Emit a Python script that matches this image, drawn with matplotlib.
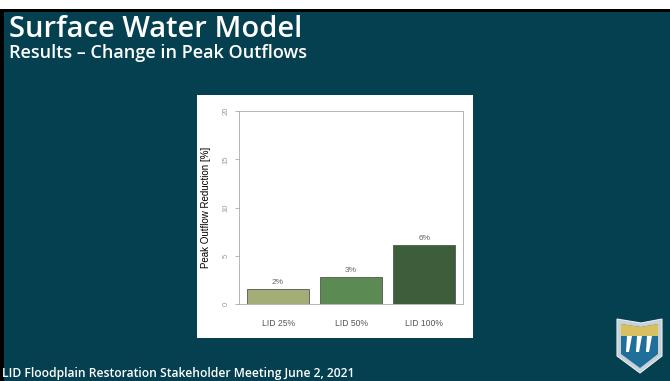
import matplotlib.pyplot as plt
from matplotlib.patches import Polygon, Rectangle

# chart values
scenarios = ['LID 25%', 'LID 50%', 'LID 100%']
reduction = [1.6, 2.8, 6.1]
bar_labels = ['2%', '3%', '6%']
bar_colors = ['#a3ad78', '#5b8a52', '#3d5e3b']
yticks = [0, 5, 10, 15, 20]

W, H = 670, 381
bg = '#04404f'

fig = plt.figure(figsize=(W / 100, H / 100), dpi=100, facecolor=bg)

def fx(px):
    return px / W

def fy(py):
    return 1 - py / H

def fig_rect(x0, y0, x1, y1, color):
    # rectangle given in pixel coords of the slide (y down)
    fig.patches.append(Rectangle((fx(x0), fy(y1)), fx(x1 - x0), (y1 - y0) / H,
                                 transform=fig.transFigure, facecolor=color,
                                 edgecolor='none'))

# screenshot borders: white strip on top, black frame line
fig_rect(0, 0, W, 9, 'white')
fig_rect(0, 9, W, 12, 'black')
fig_rect(0, 9, 4, H, 'black')

# slide titles
fig.text(fx(9), fy(37), 'Surface Water Model', color='white', fontsize=21,
         family='Open Sans', fontweight='semibold', va='baseline')
fig.text(fx(9), fy(58), 'Results \u2013 Change in Peak Outflows', color='white',
         fontsize=13, family='Open Sans', fontweight='semibold', va='baseline')
fig.text(fx(2), fy(377), 'LID Floodplain Restoration Stakeholder Meeting June 2, 2021',
         color='white', fontsize=8.7, family='Open Sans', fontweight='semibold',
         va='baseline')

# white picture panel as its own empty axes
panel = fig.add_axes([fx(197), fy(338), fx(276), (338 - 95) / H])
panel.set_facecolor('white')
panel.set_xticks([])
panel.set_yticks([])
for s in panel.spines.values():
    s.set_visible(False)

# the chart
ax = fig.add_axes([fx(239), fy(304), fx(224), 193 / H])
ax.set_facecolor('white')
x = range(len(scenarios))
ax.bar(x, reduction, width=0.85, color=bar_colors, edgecolor='#555555', linewidth=0.6)
for i, v in enumerate(reduction):
    ax.text(i, v + 0.3, bar_labels[i], ha='center', va='bottom', fontsize=6,
            color='#666666', family='Liberation Sans')
ax.set_xlim(-0.534, 2.53)
ax.set_ylim(0, 20)
ax.set_yticks(yticks)
ax.set_yticklabels([str(t) for t in yticks], rotation=90, va='center',
                   fontsize=5.5, color='#999999', family='Liberation Sans')
ax.set_xticks(list(x))
ax.set_xticklabels(scenarios, fontsize=6.2, color='#555555', family='Liberation Sans')
ax.tick_params(axis='x', length=0, pad=11)
ax.tick_params(axis='y', length=3, width=0.5, color='#999999', pad=4)
for s in ax.spines.values():
    s.set_color('#aaaaaa')
    s.set_linewidth(0.6)
ax.set_ylabel('Peak Outflow Reduction [%]', fontsize=7, color='black',
              family='Liberation Sans')
ax.yaxis.set_label_coords(-0.125, 0.5)

# agency logo shield, roughly
shield = [(617, 319), (641, 323), (662, 319), (662, 356), (640, 373), (617, 356)]
inner = [(621, 324), (641, 327), (658, 324), (658, 354), (640, 368), (621, 354)]
band = [(621, 324), (641, 327), (658, 324), (658, 336), (621, 336)]
to_fig = lambda pts: [(fx(a), fy(b)) for a, b in pts]
fig.patches.append(Polygon(to_fig(shield), closed=True, transform=fig.transFigure,
                           facecolor='#c8d0d8', edgecolor='#e8eef2', linewidth=0.8))
fig.patches.append(Polygon(to_fig(inner), closed=True, transform=fig.transFigure,
                           facecolor='#1f6f9a', edgecolor='none'))
fig.patches.append(Polygon(to_fig(band), closed=True, transform=fig.transFigure,
                           facecolor='#d8c060', edgecolor='none'))
for sx in [627, 637, 647]:
    stripe = [(sx, 336), (sx + 5, 336), (sx + 2, 352), (sx - 1, 352)]
    fig.patches.append(Polygon(to_fig(stripe), closed=True, transform=fig.transFigure,
                               facecolor='white', edgecolor='none'))

fig.savefig('out.png', dpi=100, facecolor=bg)
